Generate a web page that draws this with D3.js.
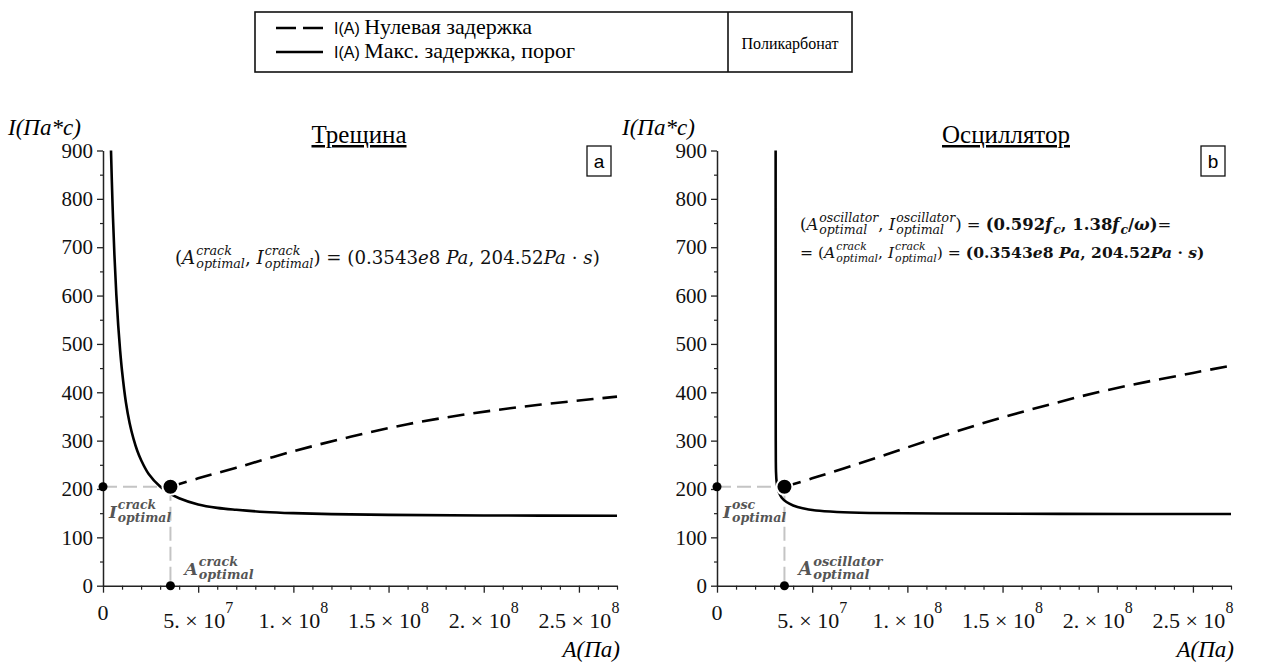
<!DOCTYPE html>
<html><head><meta charset="utf-8">
<script src="https://cdn.jsdelivr.net/npm/d3@7/dist/d3.min.js"></script>
<style>body{margin:0;background:#fff}svg{display:block}</style>
</head><body>
<svg id="c" width="1265" height="664"></svg>
<script>
// ---------------- data ----------------
const yTicks = [0,100,200,300,400,500,600,700,800,900];
const xTicks = [0,5e7,1e8,1.5e8,2e8,2.5e8];
const xTickMant = ["0","5. × 10","1. × 10","1.5 × 10","2. × 10","2.5 × 10"];
const xTickExp = ["","7","8","8","8","8"];
const optA = 0.3543e8, optI = 204.52;

// A (Pa), I (Pa*s)
const crackSolid = [[0.42e7,900],[0.5e7,790],[0.6e7,684],[0.7e7,602],[0.8e7,538],[0.9e7,486],[1.0e7,444],[1.2e7,380],[1.4e7,336],[1.6e7,304],[1.8e7,279],[2.0e7,260],[2.4e7,231],[3.0e7,205],[3.5e7,191],[4.0e7,181],[5.0e7,168],[6.0e7,161],[7.0e7,157],[8.5e7,152.5],[10e7,150],[12e7,148],[15e7,146.5],[20e7,145.3],[27e7,144.8]];
const crackDashed = [[3.543e7,204.52],[5e7,222],[7e7,244],[10e7,278],[13e7,308],[16e7,334],[19e7,354],[22e7,370],[25e7,383],[27e7,391]];
const oscSolid = [[3.08e7,900],[3.08e7,700],[3.081e7,500],[3.083e7,380],[3.086e7,300],[3.09e7,260],[3.1e7,235],[3.13e7,215],[3.18e7,202],[3.26e7,192],[3.4e7,182],[3.65e7,173],[4.0e7,166],[4.5e7,160],[5.2e7,155.5],[6.3e7,152.5],[8e7,150.5],[11.7e7,149.3],[18e7,148.6],[27e7,148.2]];
const oscDashed = [[3.543e7,204.52],[5e7,222],[7.5e7,253],[10e7,286],[12.5e7,318],[15e7,348],[17.5e7,375],[20e7,400],[22.5e7,421],[25e7,440],[27e7,455]];

const legendLabels = ["Нулевая задержка","Макс. задержка, порог"];
const legendPrefix = "I(A)";
const materialLabel = "Поликарбонат";
const titles = ["Трещина","Осциллятор"];
const panelLetters = ["a","b"];
const yTitle = "I(Па*с)", xTitle = "A(Па)";

// ---------------- helpers ----------------
const svg = d3.select("#c");
const SERIF = '"Liberation Serif"';
const SANS = '"Liberation Sans"';
const MATH = '"DejaVu Serif"';

function drawMath(g, x, y, parts, o) {
  const grp = g.append("g").attr("fill", o.color || "#000");
  let size = o.size;
  const render = () => {
    grp.selectAll("*").remove();
    let cx = x;
    parts.forEach(p => {
      const wt = (o.bold || p.bold) ? "bold" : "normal";
      const base = grp.append("text").attr("x", cx).attr("y", y)
        .style("font-family", MATH).style("font-size", size + "px")
        .style("font-style", p.it ? "italic" : "normal").style("font-weight", wt)
        .style("white-space", "pre").text(p.t);
      let w = base.node().getComputedTextLength();
      if (p.sup || p.sub) {
        const ss = size * (o.ratio || 0.7);
        let sw = 0;
        if (p.sup) {
          const t = grp.append("text").attr("x", cx + w + 1).attr("y", y - size * 0.5)
            .style("font-family", MATH).style("font-size", ss + "px").style("font-style", "italic")
            .style("font-weight", wt).text(p.sup);
          sw = Math.max(sw, t.node().getComputedTextLength());
        }
        if (p.sub) {
          const t = grp.append("text").attr("x", cx + w + 1).attr("y", y + size * 0.24)
            .style("font-family", MATH).style("font-size", ss + "px").style("font-style", "italic")
            .style("font-weight", wt).text(p.sub);
          sw = Math.max(sw, t.node().getComputedTextLength());
        }
        w += sw + 1;
      }
      cx += w;
    });
    return cx - x;
  };
  const W = render();
  if (o.width) { size = size * o.width / W; render(); }
  return size;
}

// ---------------- legend ----------------
const leg = svg.append("g");
leg.append("rect").attr("x",255).attr("y",12).attr("width",597).attr("height",60)
  .attr("fill","none").attr("stroke","#111").attr("stroke-width",1.6);
leg.append("line").attr("x1",728).attr("x2",728).attr("y1",12).attr("y2",72).attr("stroke","#111").attr("stroke-width",1.6);
const legY = [28, 52];
legendLabels.forEach((lab,i) => {
  leg.append("line").attr("x1",276).attr("x2",323).attr("y1",legY[i]).attr("y2",legY[i])
    .attr("stroke","#000").attr("stroke-width",2.5)
    .attr("stroke-dasharray", i===0 ? "20,7" : null);
  const t = leg.append("text").attr("x",334).attr("y",legY[i]+6).style("white-space","pre");
  t.append("tspan").style("font-family",SANS).style("font-size","16px").text(legendPrefix + " ");
  t.append("tspan").style("font-family",SERIF).style("font-size","22px").text(lab);
});
leg.append("text").attr("x",790).attr("y",49).attr("text-anchor","middle")
  .style("font-family",SERIF).style("font-size","16px").text(materialLabel);

// ---------------- panels ----------------
const panels = [
  {x0:103, solid:crackSolid, dashed:crackDashed, title:titles[0], letter:panelLetters[0], tcx:359,
   iSup:"crack", aSup:"crack"},
  {x0:717, solid:oscSolid, dashed:oscDashed, title:titles[1], letter:panelLetters[1], tcx:1006,
   iSup:"osc", aSup:"oscillator"}
];

panels.forEach((P, pi) => {
  const g = svg.append("g");
  const x = d3.scaleLinear().domain([0, 2.7e8]).range([P.x0, P.x0 + 514]);
  const y = d3.scaleLinear().domain([0, 900]).range([585.7, 150.5]);

  // y axis
  const ya = g.append("g").attr("transform", `translate(${P.x0},0)`)
    .call(d3.axisLeft(y).tickValues(yTicks).tickSize(6).tickSizeOuter(0).tickPadding(4).tickFormat(d3.format("d")));
  ya.attr("font-family", null);
  ya.select(".domain").attr("stroke","#222").attr("stroke-width",1.5);
  ya.selectAll(".tick line").attr("stroke","#222").attr("stroke-width",1.3);
  ya.selectAll(".tick text").style("font-family",SERIF).style("font-size","21px").attr("fill","#111");
  const yMinor = g.append("g").attr("transform", `translate(${P.x0},0)`)
    .call(d3.axisLeft(y).tickValues(d3.range(50, 900, 100)).tickSize(3).tickFormat(""));
  yMinor.select(".domain").remove();
  yMinor.selectAll(".tick line").attr("stroke","#222").attr("stroke-width",1.2);

  // x axis
  const xa = g.append("g").attr("transform", `translate(0,${y(0)})`)
    .call(d3.axisBottom(x).tickValues(xTicks).tickSize(7).tickSizeOuter(0).tickFormat(""));
  xa.select(".domain").attr("stroke","#222").attr("stroke-width",1.5);
  xa.selectAll(".tick line").attr("stroke","#222").attr("stroke-width",1.3);
  const xMinor = g.append("g").attr("transform", `translate(0,${y(0)})`)
    .call(d3.axisBottom(x).tickValues(d3.range(1e7, 2.75e8, 1e7).filter(v => Math.round(v/1e7)%5 !== 0)).tickSize(4).tickFormat(""));
  xMinor.select(".domain").remove();
  xMinor.selectAll(".tick line").attr("stroke","#222").attr("stroke-width",1.2);
  xTicks.forEach((v,i) => {
    const t = g.append("text").attr("x", x(v)).attr("y", i===0 ? 620 : 628)
      .attr("text-anchor","middle").style("font-family",SERIF).style("font-size","22px").attr("fill","#111");
    t.append("tspan").text(xTickMant[i]);
    if (xTickExp[i]) t.append("tspan").attr("dy",-15).style("font-size","16px").text(xTickExp[i]);
  });

  // titles
  g.append("text").attr("x", P.x0 - 95).attr("y", 135).style("font-family",SERIF).style("font-style","italic")
    .style("font-size","23px").text(yTitle);
  g.append("text").attr("x", P.x0 + 517).attr("y", 657).attr("text-anchor","end").style("font-family",SERIF)
    .style("font-style","italic").style("font-size","23px").text(xTitle);
  g.append("text").attr("x", P.tcx).attr("y", 143).attr("text-anchor","middle").style("font-family",SERIF)
    .style("font-size","25px").style("text-decoration","underline").text(P.title);
  g.append("rect").attr("x", P.x0 + 484).attr("y", 146).attr("width", 24).attr("height", 30)
    .attr("fill","#fff").attr("stroke","#111").attr("stroke-width",1.3);
  g.append("text").attr("x", P.x0 + 496).attr("y", 168).attr("text-anchor","middle")
    .style("font-family",SANS).style("font-size","19px").text(P.letter);

  // guides
  g.append("line").attr("x1", x(0)).attr("x2", x(optA)).attr("y1", y(optI)).attr("y2", y(optI))
    .attr("stroke","#c4c4c4").attr("stroke-width",2).attr("stroke-dasharray","14,6");
  g.append("line").attr("x1", x(optA)).attr("x2", x(optA)).attr("y1", y(optI)).attr("y2", y(0))
    .attr("stroke","#c4c4c4").attr("stroke-width",2).attr("stroke-dasharray","14,6");

  // curves
  const line = d3.line().x(d => x(d[0])).y(d => y(d[1])).curve(d3.curveCatmullRom.alpha(0.5));
  g.append("path").attr("d", line(P.solid)).attr("fill","none").attr("stroke","#000").attr("stroke-width",2.6);
  g.append("path").attr("d", line(P.dashed)).attr("fill","none").attr("stroke","#000").attr("stroke-width",2.6)
    .attr("stroke-dasharray","17,9");

  // dots
  g.append("circle").attr("cx", x(0)).attr("cy", y(optI)).attr("r", 4.5).attr("fill","#000");
  g.append("circle").attr("cx", x(optA)).attr("cy", y(0)).attr("r", 4.5).attr("fill","#000");
  g.append("circle").attr("cx", x(optA)).attr("cy", y(optI)).attr("r", 8).attr("fill","#000")
    .attr("stroke","#fff").attr("stroke-width",2);

  // guide labels
  drawMath(g, x(0) + 6, y(optI) + 31, [{t:"I", it:true, sup:P.iSup, sub:"optimal"}],
    {size:19, color:"#555", bold:true, ratio:0.74, width: pi===0 ? 62 : 63});
  drawMath(g, x(optA) + 14, y(0) - 11, [{t:"A", it:true, sup:P.aSup, sub:"optimal"}],
    {size:19, color:"#555", bold:true, ratio:0.74, width: pi===0 ? 69 : 84});
});

// ---------------- annotations ----------------
const ann = svg.append("g");
drawMath(ann, 175, 264, [
  {t:"("}, {t:"A", it:true, sup:"crack", sub:"optimal"}, {t:", "},
  {t:"I", it:true, sup:"crack", sub:"optimal"}, {t:") = (0.3543"}, {t:"e", it:true}, {t:"8 "},
  {t:"Pa", it:true}, {t:", 204.52"}, {t:"Pa", it:true}, {t:" · "}, {t:"s", it:true}, {t:")"}
], {size:16, width:425, color:"#111"});

drawMath(ann, 800, 258, [
  {t:"= ("}, {t:"A", it:true, sup:"crack", sub:"optimal"}, {t:", "},
  {t:"I", it:true, sup:"crack", sub:"optimal"}, {t:") = "},
  {t:"(0.3543", bold:true}, {t:"e", it:true, bold:true}, {t:"8 ", bold:true}, {t:"Pa", it:true, bold:true},
  {t:", 204.52", bold:true}, {t:"Pa", it:true, bold:true}, {t:" · ", bold:true}, {t:"s", it:true, bold:true}, {t:")", bold:true}
], {size:15, width:405, color:"#111"});
drawMath(ann, 800, 230, [
  {t:"("}, {t:"A", it:true, sup:"oscillator", sub:"optimal"}, {t:", "},
  {t:"I", it:true, sup:"oscillator", sub:"optimal"}, {t:") = "},
  {t:"(0.592", bold:true}, {t:"f", it:true, bold:true, sub:"c"}, {t:", 1.38", bold:true},
  {t:"f", it:true, bold:true, sub:"c"}, {t:"/", bold:true}, {t:"ω", it:true, bold:true}, {t:")", bold:true}, {t:"="}
], {size:15, width:372, ratio:0.76, color:"#111"});
</script>
</body></html>
